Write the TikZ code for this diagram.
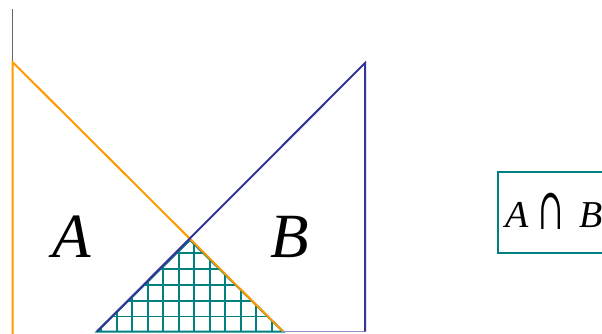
\documentclass[tikz,border=0pt]{standalone}
\usepackage{fontspec}
\setmainfont{Liberation Serif}
\newfontfamily\symfont{DejaVu Serif}
\definecolor{orng}{HTML}{FF9900}
\definecolor{blu}{HTML}{333399}
\definecolor{tl}{HTML}{008080}
\definecolor{gry}{HTML}{666666}
\begin{document}
\begin{tikzpicture}[x=1pt,y=-1pt,
  setlbl/.style={inner sep=0pt, font=\fontsize{63}{63}\selectfont\itshape},
  boxlbl/.style={inner sep=0pt, font=\fontsize{38}{38}\selectfont\itshape},
  oline/.style={draw=orng, line width=2pt},
  bline/.style={draw=blu, line width=2pt},
  tline/.style={draw=tl, line width=2pt}]
\useasboundingbox (0,0) rectangle (602,333);
% coordinates
\coordinate (gtop) at (12.5,9);
\coordinate (atop) at (12.5,62);
\coordinate (abot) at (12.5,340);
\coordinate (aend) at (283,331.5);
\coordinate (btop) at (365,63);
\coordinate (bbot) at (365,331.5);
\coordinate (bend) at (97,331.5);
\coordinate (apex) at (190,240);
% hatch
\begin{scope}
\clip (bend) -- (apex) -- (aend) -- cycle;
\foreach \x in {0,...,11} \draw[tl, line width=1.7pt] (116.7+15.5*\x-15.5,230) -- (116.7+15.5*\x-15.5,340);
\foreach \y in {0,...,6} \draw[tl, line width=1.7pt] (80,253.3+15.8*\y-15.8) -- (300,253.3+15.8*\y-15.8);
\end{scope}
\draw[tline] (bend) -- (apex) -- (aend) -- cycle;
% gray
\draw[gry, line width=1.5pt] (gtop) -- (atop);
% A triangle
\draw[oline] (abot) -- (atop) -- (aend);
% B triangle
\draw[draw=blu!55, line width=1.6pt] (aend) -- (bbot);
\draw[bline] (bend) -- (btop) -- (bbot);
% labels
\node[setlbl] (la) at (72,236.5) {A};
\node[setlbl] (lb) at (290,236.5) {B};
% box
\draw[tl, line width=2pt] (498,172) rectangle (640,253);
\node[boxlbl] (ba) at (517,215) {A};
\node[inner sep=0pt] (bc) at (551.5,211.5) {\scalebox{0.75}[1.45]{\fontsize{40}{40}\selectfont\symfont ∩}};
\node[boxlbl] (bb) at (591,215) {B};
\end{tikzpicture}
\end{document}
